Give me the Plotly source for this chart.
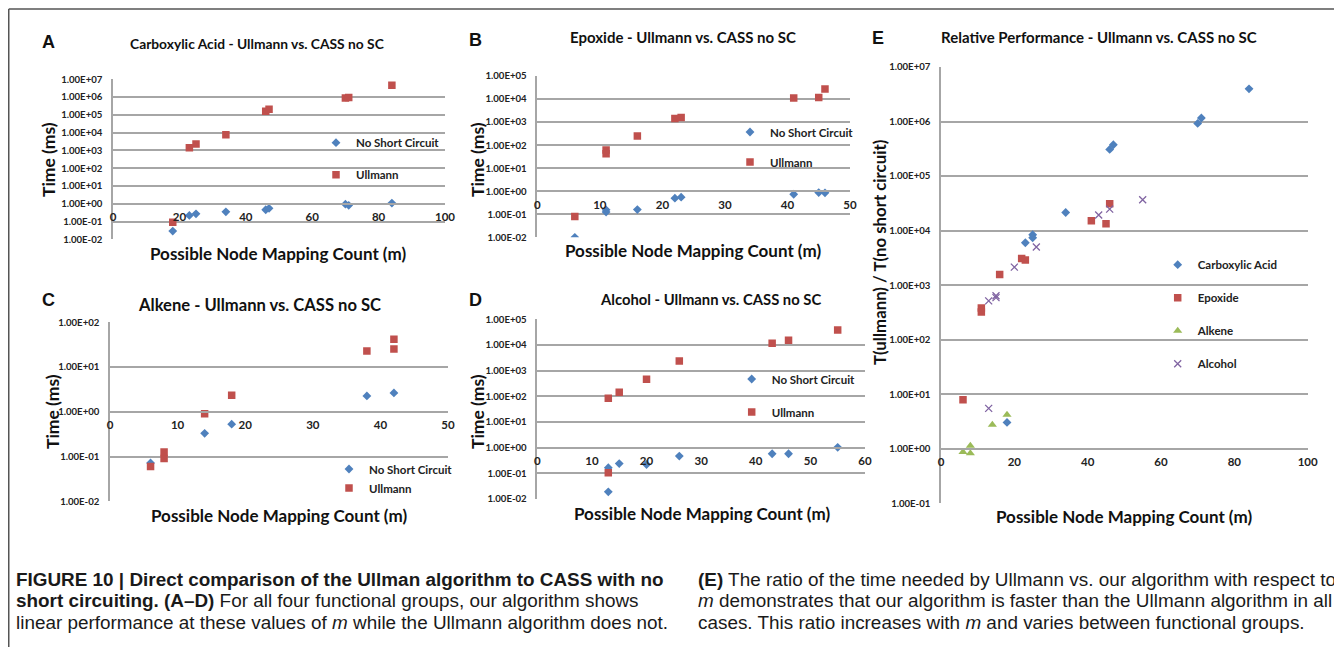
import math
import plotly.graph_objects as go

# The page body adds an 8px margin, so the figure is drawn 8px in from the window edge.
OFF = 8
W, H = 1342 - OFF, 647 - OFF

# ---------------- data ----------------
A_m_ull = [18, 23, 25, 34, 46, 47, 70, 71, 84]
A_t_ull = [0.09, 1400, 2300, 7600, 1.6e5, 2.1e5, 8.9e5, 9.6e5, 4.6e6]
A_m_nsc = [18, 23, 25, 34, 46, 47, 70, 71, 84]
A_t_nsc = [0.029, 0.22, 0.27, 0.35, 0.46, 0.55, 0.95, 0.81, 1.09]

B_m_ull = [6, 11, 11, 16, 22, 23, 41, 45, 46]
B_t_ull = [0.079, 62, 42, 250, 1420, 1580, 1.12e4, 1.17e4, 2.7e4]
B_m_nsc = [6, 11, 11, 16, 22, 23, 41, 45, 46]
B_t_nsc = [0.01, 0.155, 0.125, 0.16, 0.50, 0.55, 0.74, 0.875, 0.85]

C_m_ull = [6, 8, 8, 14, 18, 38, 42, 42]
C_t_ull = [0.060, 0.090, 0.126, 0.91, 2.34, 22.9, 25.3, 41.7]
C_m_nsc = [6, 14, 18, 38, 42]
C_t_nsc = [0.072, 0.33, 0.53, 2.26, 2.64]

D_m_ull = [13, 13, 15, 20, 26, 43, 46, 55]
D_t_ull = [84, 0.106, 143, 458, 2390, 1.16e4, 1.52e4, 3.83e4]
D_m_nsc = [13, 13, 15, 20, 26, 43, 46, 55]
D_t_nsc = [0.166, 0.019, 0.24, 0.22, 0.47, 0.58, 0.58, 1.03]

E_m_carb = [18, 23, 25, 25, 34, 46, 47, 70, 71, 84]
E_r_carb = [3.04, 6.0e3, 8.4e3, 7.4e3, 2.15e4, 3.08e5, 3.76e5, 9.25e5, 1.16e6, 3.98e6]
E_m_epox = [6, 11, 11, 16, 22, 23, 41, 45, 46]
E_r_epox = [7.9, 380, 321, 1574, 3090, 2880, 1.51e4, 1.34e4, 3.1e4]
E_m_alk = [6, 8, 8, 14, 18]
E_r_alk = [0.87, 1.13, 0.83, 2.76, 4.2]
E_m_alc = [13, 13, 15, 15, 20, 26, 43, 46, 55]
E_r_alc = [5.5, 515, 640, 590, 2140, 5000, 1.93e4, 2.48e4, 3.68e4]

decade_vals = [1e-2, 1e-1, 1e0, 1e1, 1e2, 1e3, 1e4, 1e5, 1e6, 1e7]
decade_text = ["1.00E-02", "1.00E-01", "1.00E+00", "1.00E+01", "1.00E+02",
               "1.00E+03", "1.00E+04", "1.00E+05", "1.00E+06", "1.00E+07"]

panel_titles = {
    "A": "Carboxylic Acid - Ullmann vs. CASS no SC",
    "B": "Epoxide - Ullmann vs. CASS no SC",
    "C": "Alkene - Ullmann vs. CASS no SC",
    "D": "Alcohol - Ullmann vs. CASS no SC",
    "E": "Relative Performance - Ullmann vs. CASS no SC",
}
x_title = "Possible Node Mapping Count (m)"
y_title = "Time (ms)"
y_title_E = "T(ullmann) / T(no short circuit)"

cap_left_lines = [
    "<b>FIGURE 10 | Direct comparison of the Ullman algorithm to CASS with no</b>",
    "<b>short circuiting. (A–D)</b> For all four functional groups, our algorithm shows",
    "linear performance at these values of <i>m</i> while the Ullmann algorithm does not.",
]
cap_right_lines = [
    "<b>(E)</b> The ratio of the time needed by Ullmann vs. our algorithm with respect to",
    "<i>m</i> demonstrates that our algorithm is faster than the Ullmann algorithm in all",
    "cases. This ratio increases with <i>m</i> and varies between functional groups.",
]

BLUE, RED, GREEN, PURPLE = "#4f81bd", "#c0504d", "#9bbb59", "#8064a2"
GRID = "#a6a6a6"
FONT = "Lato, 'Open Sans', sans-serif"
CAP_FONT = "'Liberation Sans', Arial, sans-serif"


def fx(px):
    return (px - OFF) / W


def fy(py):
    return 1 - (py - OFF) / H


fig = go.Figure()

# panel layout: (key, axis suffix, box px (x0, x1, ytop, ybottom), log range, x range, xdtick)
panels = [
    ("A", "", (113, 445, 79.3, 239.3), (-2, 7), (0, 100), 20),
    ("B", "2", (537.3, 850, 76, 237.3), (-2, 5), (0, 50), 10),
    ("C", "3", (110, 448, 322.3, 501.3), (-2, 2), (0, 50), 10),
    ("D", "4", (537.3, 865, 319.3, 499), (-2, 5), (0, 60), 10),
    ("E", "5", (941, 1307.7, 67, 503.3), (-1, 7), (0, 100), 20),
]

for key, sfx, (x0, x1, yt, yb), lr, xr, dt in panels:
    ydom = [fy(yb), fy(yt)]
    pos = ydom[0] + (0 - lr[0]) / (lr[1] - lr[0]) * (ydom[1] - ydom[0])
    fig.layout["xaxis" + sfx] = dict(
        domain=[fx(x0), fx(x1)], range=list(xr), dtick=dt, anchor="free", position=pos,
        showgrid=False, zeroline=False, showline=True, linecolor=GRID, linewidth=1.5,
        ticks="", ticklabelstandoff=3, automargin=False,
        tickfont=dict(family=FONT, size=11.5, color="#222", weight="bold"),
    )
    keep = [lr[0] <= math.log10(v) <= lr[1] for v in decade_vals]
    tv = [v for v, k in zip(decade_vals, keep) if k]
    tt = [t for t, k in zip(decade_text, keep) if k]
    fig.layout["yaxis" + sfx] = dict(
        domain=ydom, type="log", range=list(lr), anchor="x" + sfx,
        tickvals=tv, ticktext=tt, showgrid=True, gridcolor=GRID, gridwidth=1.5,
        zeroline=False, showline=True, linecolor=GRID, linewidth=1.5, ticks="",
        ticklabelstandoff=7, automargin=False,
        tickfont=dict(family=FONT, size=9.6, color="#222", weight="bold"),
    )


def add(xs, ys, name, sym, color, size, sfx, leg, grp):
    fig.add_trace(go.Scatter(
        x=xs, y=ys, mode="markers", name=name,
        marker=dict(symbol=sym, color=color, size=size,
                    line=dict(width=1.3 if "x" in sym else 0, color=color)),
        xaxis="x" + sfx, yaxis="y" + sfx, legend=leg, legendgroup=grp,
    ))


SQ, DM = 7.5, 6.8
add(A_m_nsc, A_t_nsc, "No Short Circuit", "diamond", BLUE, DM, "", "legend", "a1")
add(A_m_ull, A_t_ull, "Ullmann", "square", RED, SQ, "", "legend", "a2")
add(B_m_nsc, B_t_nsc, "No Short Circuit", "diamond", BLUE, DM, "2", "legend2", "b1")
add(B_m_ull, B_t_ull, "Ullmann", "square", RED, SQ, "2", "legend2", "b2")
add(C_m_nsc, C_t_nsc, "No Short Circuit", "diamond", BLUE, DM, "3", "legend3", "c1")
add(C_m_ull, C_t_ull, "Ullmann", "square", RED, SQ, "3", "legend3", "c2")
add(D_m_nsc, D_t_nsc, "No Short Circuit", "diamond", BLUE, DM, "4", "legend4", "d1")
add(D_m_ull, D_t_ull, "Ullmann", "square", RED, SQ, "4", "legend4", "d2")
add(E_m_carb, E_r_carb, "Carboxylic Acid", "diamond", BLUE, DM, "5", "legend5", "e1")
add(E_m_epox, E_r_epox, "Epoxide", "square", RED, SQ, "5", "legend5", "e2")
add(E_m_alk, E_r_alk, "Alkene", "triangle-up", GREEN, 8, "5", "legend5", "e3")
add(E_m_alc, E_r_alc, "Alcohol", "x-thin-open", PURPLE, 7, "5", "legend5", "e4")

# legends: (name, text-start x px, first item y px, gap)
legs = [("legend", 356, 142.7, 13), ("legend2", 770, 132, 11), ("legend3", 369, 469, 0),
        ("legend4", 771.7, 379, 14), ("legend5", 1197.7, 264.7, 14)]
for name, tx, ty, gap in legs:
    fig.layout[name] = dict(
        x=fx(tx - 40), y=fy(ty - 14.5), xanchor="left", yanchor="top",
        bgcolor="rgba(0,0,0,0)", borderwidth=0, traceorder="grouped", tracegroupgap=gap,
        font=dict(family=FONT, size=11.5, color="#222", weight="bold"),
    )

ann = []


def text(x, y, s, size, family=FONT, bold=True, angle=0, xanchor="center", align="center", color="#111"):
    ann.append(dict(x=fx(x), y=fy(y), xref="paper", yref="paper", text=s, showarrow=False,
                    textangle=angle, xanchor=xanchor, yanchor="middle", align=align,
                    font=dict(family=family, size=size, color=color,
                              weight="bold" if bold else "normal")))


# panel letters
for k, (x, y) in {"A": (48, 42), "B": (475, 40), "C": (48, 300), "D": (475, 300), "E": (878, 38)}.items():
    text(x, y, k, 18, family="'Liberation Sans', Arial, sans-serif")
# titles
text(257, 43, panel_titles["A"], 13.8)
text(683, 37, panel_titles["B"], 15)
text(259, 305, panel_titles["C"], 16.6)
text(710, 299, panel_titles["D"], 14.8)
text(1099, 37, panel_titles["E"], 15)
# y titles
text(48, 160, y_title, 17.5, angle=-90)
text(477, 160, y_title, 17.5, angle=-90)
text(52, 412, y_title, 17.5, angle=-90)
text(477, 412, y_title, 17.5, angle=-90)
text(879, 253, y_title_E, 16.8, angle=-90)
# x titles
text(278, 253, x_title, 17)
text(693, 250, x_title, 17)
text(279, 515, x_title, 17)
text(702, 513, x_title, 17)
text(1124, 517, x_title, 17)

for i, (l, r) in enumerate(zip(cap_left_lines, cap_right_lines)):
    y = 579 + 21.5 * i
    text(14, y, l, 18.9, family=CAP_FONT, bold=False, xanchor="left", align="left", color="#1a1a1a")
    text(696, y, r, 18.9, family=CAP_FONT, bold=False, xanchor="left", align="left", color="#1a1a1a")

shapes = [
    dict(type="line", xref="paper", yref="paper", x0=fx(8.75), x1=1, y0=fy(9), y1=fy(9),
         line=dict(color="#555", width=1.5)),
    dict(type="line", xref="paper", yref="paper", x0=fx(8.75), x1=fx(8.75), y0=fy(9), y1=0,
         line=dict(color="#555", width=1.5)),
]

fig.update_layout(
    width=W, height=H, margin=dict(l=0, r=0, t=0, b=0, autoexpand=False),
    paper_bgcolor="white", plot_bgcolor="rgba(0,0,0,0)",
    annotations=ann, shapes=shapes, showlegend=True,
)

fig.write_html("out.html")
